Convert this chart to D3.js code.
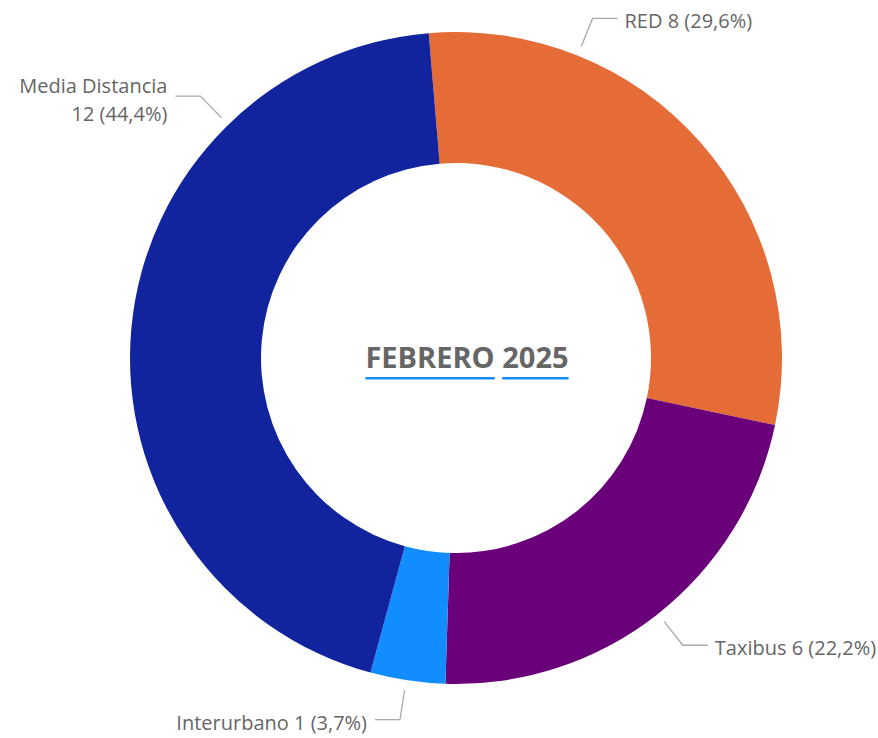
<!DOCTYPE html>
<html lang="es">
<head>
<meta charset="UTF-8">
<title>Febrero 2025</title>
<style>
    body { margin: 0; background: #fff; font-family: "Open Sans", sans-serif; }
    .lbl { fill: #666; font-size: 20px; }
    .title { fill: #666; font-size: 29px; font-weight: bold; }
</style>
</head>
<body>
<svg width="878" height="738"></svg>
<script src="https://cdn.jsdelivr.net/npm/d3@7"></script>
<script>
    const categories = ["RED", "Taxibus", "Interurbano", "Media Distancia"];
    const values = [8, 6, 1, 12];
    const colors = ["#E66C37", "#6B007B", "#118DFF", "#12239E"];
    // where the leader line leaves the ring (degrees, clockwise from top)
    const labelAngles = [21.9, 141.7, 188.8, 315.7];

    const svg = d3.select("svg");
    const cx = 456, cy = 358, outerR = 326, innerR = 195;
    const g = svg.append("g").attr("transform", `translate(${cx},${cy})`);

    const total = d3.sum(values);
    const data = categories.map((c, i) => ({ name: c, value: values[i], color: colors[i], la: labelAngles[i] }));

    const startA = -4.8 * Math.PI / 180;
    const pie = d3.pie().value(d => d.value).sort(null)
        .startAngle(startA).endAngle(startA + 2 * Math.PI);
    const arc = d3.arc().innerRadius(innerR).outerRadius(outerR);

    const arcs = pie(data);
    g.selectAll("path.slice").data(arcs).join("path")
        .attr("class", "slice")
        .attr("fill", d => d.data.color)
        .attr("d", arc);

    const fmt = v => (v / total * 100).toFixed(1).replace(".", ",") + "%";
    const pt = (deg, r) => {
        const a = deg * Math.PI / 180;
        return [r * Math.sin(a), -r * Math.cos(a)];
    };

    arcs.forEach(d => {
        const p1 = pt(d.data.la, 336);
        const p2 = pt(d.data.la, 366);
        const right = Math.sin(d.data.la * Math.PI / 180) > 0;
        const p3 = [p2[0] + (right ? 25 : -25), p2[1]];
        g.append("path")
            .attr("d", d3.line()([p1, p2, p3]))
            .attr("fill", "none")
            .attr("stroke", "#aaa")
            .attr("stroke-width", 1.3);
        const tx = p3[0] + (right ? 7 : -8);
        const t = g.append("text")
            .attr("class", "lbl")
            .attr("text-anchor", right ? "start" : "end")
            .attr("x", tx)
            .attr("y", p3[1]);
        const txt = `${d.data.value} (${fmt(d.data.value)})`;
        if (d.data.name === "Media Distancia") {
            t.append("tspan").attr("x", tx).attr("dy", "-0.15em").text(d.data.name);
            t.append("tspan").attr("x", tx).attr("dy", "1.4em").text(txt);
        } else {
            t.attr("dy", "0.5em").text(`${d.data.name} ${txt}`);
        }
    });

    // centre title, each word underlined
    const words = ["FEBRERO", "2025"];
    const title = g.append("text").attr("class", "title")
        .attr("x", 11).attr("y", 10).attr("text-anchor", "middle");
    words.forEach((w, i) => {
        title.append("tspan").text(w);
        if (i < words.length - 1) title.append("tspan").text(" ");
    });
    title.selectAll("tspan").each(function (d, i) {
        if (i % 2 === 1) return;
        const b = this.getBBox();
        g.append("rect")
            .attr("x", b.x).attr("y", 19)
            .attr("width", b.width).attr("height", 2.5)
            .attr("fill", "#118DFF");
    });
</script>
</body>
</html>
